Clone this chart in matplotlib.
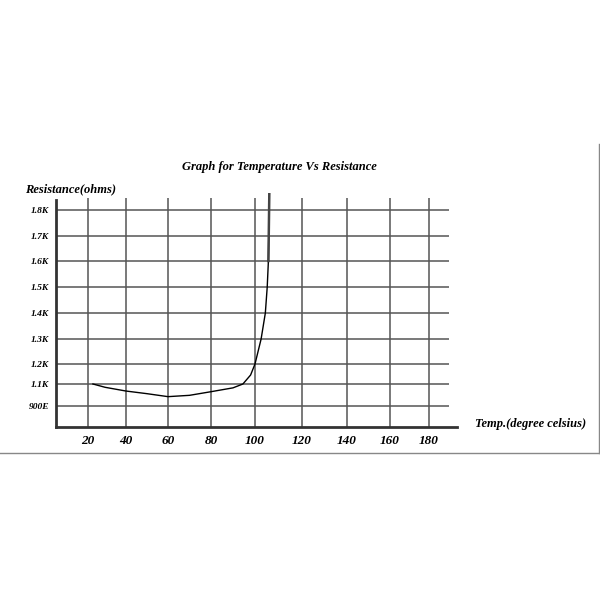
import numpy as np
import matplotlib.pyplot as plt
from matplotlib.lines import Line2D

# readings taken off the hand drawn curve
temp = [22.6, 29, 40, 50, 60, 70, 80, 90, 94.5, 98, 100, 102.6, 104.4, 105.2, 105.7, 106.1]
res = [1100, 1070, 1036, 1012, 985, 997, 1030, 1065, 1100, 1145, 1200, 1300, 1400, 1500, 1600, 1870]

x_ticks = [20, 40, 60, 80, 100, 120, 140, 160, 180]
y_ticks = [900, 1100, 1200, 1300, 1400, 1500, 1600, 1700, 1800]
y_labels = ['900E', '1.1K', '1.2K', '1.3K', '1.4K', '1.5K', '1.6K', '1.7K', '1.8K']

# the paper grid is not evenly spaced, so the scales follow the drawn lines
x_knots = [-40, 20, 40, 60, 80, 100, 120, 140, 160, 180, 240]
x_knot_px = [-40, 88, 126, 168, 211, 255, 302, 347, 390, 429, 547]
y_knots = [500, 900, 1100, 1200, 1300, 1400, 1500, 1600, 1700, 1800, 2200]
y_knot_px = [106, 194, 216, 236, 261, 287, 313, 339, 364, 390, 492]


def xf(v):
    return np.interp(v, x_knots, x_knot_px)


def xi(p):
    return np.interp(p, x_knot_px, x_knots)


def yf(v):
    return np.interp(v, y_knots, y_knot_px)


def yi(p):
    return np.interp(p, y_knot_px, y_knots)


plt.rcParams['font.family'] = ['Liberation Serif', 'DejaVu Serif']
font = dict(fontweight='bold', fontstyle='italic')

fig = plt.figure(figsize=(6, 6), dpi=100)
ax = fig.add_axes([56/600, 173/600, (457-56)/600, (407-173)/600])
ax.set_xscale('function', functions=(xf, xi))
ax.set_yscale('function', functions=(yf, yi))
ax.set_xlim(xi(56), xi(457))
ax.set_ylim(yi(173), yi(407))

grid_c = '#555555'
ax.vlines(x_ticks, yi(173), yi(402), color=grid_c, lw=1.1, zorder=1)
ax.hlines(y_ticks, xi(56), 190, color=grid_c, lw=1.1, zorder=1)

ax.plot(temp, res, color='black', lw=1.0, zorder=3)
# the steep end was pencilled over a second time
ax.plot(temp[-2:], res[-2:], color='#444444', lw=1.8, zorder=3)

for s in ['top', 'right']:
    ax.spines[s].set_visible(False)
ax.spines['left'].set_linewidth(2)
ax.spines['bottom'].set_linewidth(2)
ax.spines['left'].set_color('#333333')
ax.spines['bottom'].set_color('#333333')
ax.spines['left'].set_bounds(yi(173), yi(400))

ax.set_xticks(x_ticks)
ax.set_xticklabels([str(t) for t in x_ticks], fontsize=9.5, **font)
ax.set_yticks(y_ticks)
ax.set_yticklabels(y_labels, fontsize=6.8, **font)
ax.tick_params(length=0)
ax.tick_params(axis='x', pad=6)
ax.tick_params(axis='y', pad=5)

fig.text(279/600, 1-167/600, 'Graph for Temperature Vs Resistance', ha='center', va='center', fontsize=9, **font)
fig.text(25/600, 1-189/600, 'Resistance(ohms)', ha='left', va='center', fontsize=9, **font)
fig.text(475/600, 1-424/600, 'Temp.(degree celsius)', ha='left', va='center', fontsize=9, **font)

# frame of the scanned page
fig.add_artist(Line2D([0, 599/600], [1-453/600, 1-453/600], color='#888888', lw=1))
fig.add_artist(Line2D([599/600, 599/600], [1-453/600, 1-144/600], color='#888888', lw=1))

fig.savefig('out.png', dpi=100)
